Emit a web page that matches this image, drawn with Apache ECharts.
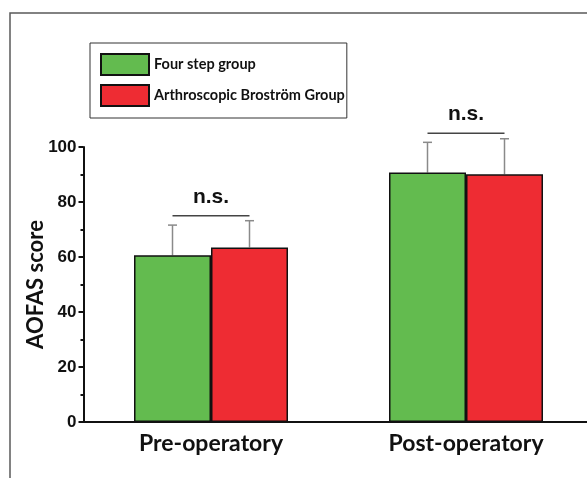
<!DOCTYPE html>
<html>
<head>
<meta charset="utf-8">
<script src="https://cdn.jsdelivr.net/npm/echarts@6/dist/echarts.min.js"></script>
<style>html,body{margin:0;padding:0;background:#fff;overflow:hidden;width:587px;height:478px}#c{width:600px;height:478px}</style>
</head>
<body>
<div id="c"></div>
<script>
const categories = ['Pre-operatory', 'Post-operatory'];
const seriesNames = ['Four step group', 'Arthroscopic Broström Group'];
const fourStep = [60.6, 90.7];
const fourStepErrTop = [71.6, 101.7];
const brostrom = [63.5, 90.1];
const brostromErrTop = [73.2, 103.0];
const sigLabel = ['n.s.', 'n.s.'];
const sigLineY = [75.0, 105.0];
const sigTextY = [81.8, 112.0];
const yTicks = [0, 20, 40, 60, 80, 100];

const BAR_W = 77;
const GREEN = '#63bb4f';
const RED = '#ee2c33';

const chart = echarts.init(document.getElementById('c'));

function errSeries(vals, tops, dir) {
  return {
    type: 'custom',
    clip: false,
    z: 1,
    data: vals.map((v, i) => [i, v, tops[i]]),
    renderItem: function (params, api) {
      const base = api.coord([api.value(0), api.value(1)]);
      const top = api.coord([api.value(0), api.value(2)]);
      const x = base[0] + dir * BAR_W / 2;
      return {
        type: 'group',
        children: [
          {type: 'line', shape: {x1: x, y1: base[1], x2: x, y2: top[1]}, style: {stroke: '#8a8a8a', lineWidth: 1.5}},
          {type: 'line', shape: {x1: x - 4.5, y1: top[1], x2: x + 4.5, y2: top[1]}, style: {stroke: '#8a8a8a', lineWidth: 1.5}}
        ]
      };
    }
  };
}

chart.setOption({
  animation: false,
  graphic: [{
    type: 'rect', shape: {x: 10, y: 13, width: 620, height: 520},
    style: {fill: 'none', stroke: '#5a5a5a', lineWidth: 1.5}, silent: true
  }],
  legend: {
    orient: 'vertical', left: 90, top: 43,
    padding: [10, 2, 11, 10],
    borderColor: '#333', borderWidth: 1,
    itemWidth: 48, itemHeight: 21, itemGap: 8,
    icon: 'rect',
    data: seriesNames,
    textStyle: {fontFamily: 'Lato', fontWeight: 'bold', fontSize: 14.5, color: '#111'}
  },
  grid: {left: 83.5, right: 6.5, top: 147, bottom: 56, containLabel: false},
  xAxis: {
    type: 'category', data: categories,
    axisLine: {lineStyle: {color: '#111', width: 2}},
    axisTick: {alignWithLabel: true, length: 5, lineStyle: {color: '#111', width: 2}},
    axisLabel: {margin: 10, fontFamily: 'Lato', fontWeight: 'bold', fontSize: 23, color: '#111'}
  },
  yAxis: {
    type: 'value', min: 0, max: 100, interval: 20,
    name: 'AOFAS score', nameLocation: 'middle', nameGap: 37, nameMoveOverlap: false,
    nameTextStyle: {fontFamily: 'Lato', fontWeight: 'bold', fontSize: 22, color: '#111'},
    axisLine: {show: true, lineStyle: {color: '#111', width: 2}},
    axisTick: {show: true, length: 5, lineStyle: {color: '#111', width: 2}},
    minorTick: {show: true, splitNumber: 2, length: 3, lineStyle: {color: '#111', width: 2}},
    splitLine: {show: false},
    axisLabel: {margin: 7, fontFamily: 'Liberation Sans', fontWeight: 'bold', fontSize: 17, color: '#111',
      formatter: v => yTicks.includes(v) ? String(v) : ''}
  },
  series: [
    {name: seriesNames[0], type: 'bar', data: fourStep, barWidth: BAR_W, barGap: '0%', z: 2,
      itemStyle: {color: GREEN, borderColor: '#111', borderWidth: 1.5}},
    {name: seriesNames[1], type: 'bar', data: brostrom, barWidth: BAR_W, barGap: '0%', z: 2,
      itemStyle: {color: RED, borderColor: '#111', borderWidth: 1.5}},
    errSeries(fourStep, fourStepErrTop, -1),
    errSeries(brostrom, brostromErrTop, 1),
    {
      type: 'custom', clip: false, z: 3,
      data: sigLineY.map((y, i) => [i, y, sigTextY[i]]),
      renderItem: function (params, api) {
        const p = api.coord([api.value(0), api.value(1)]);
        const t = api.coord([api.value(0), api.value(2)]);
        return {
          type: 'group',
          children: [
            {type: 'line', shape: {x1: p[0] - BAR_W / 2, y1: p[1], x2: p[0] + BAR_W / 2, y2: p[1]},
              style: {stroke: '#444', lineWidth: 1.5}},
            {type: 'text', x: t[0], y: t[1],
              style: {text: sigLabel[params.dataIndex], align: 'center', verticalAlign: 'middle',
                font: 'bold 21px "Liberation Sans"', fill: '#111'}}
          ]
        };
      }
    }
  ]
});
</script>
</body>
</html>
